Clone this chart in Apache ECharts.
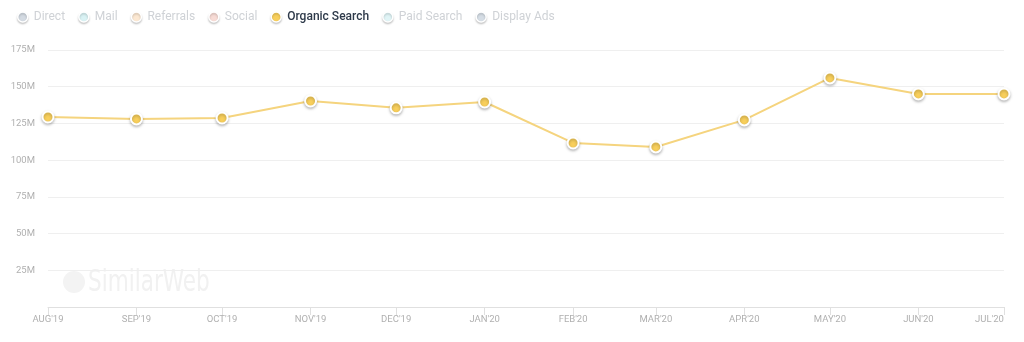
<!DOCTYPE html>
<html>
<head>
<meta charset="utf-8">
<script src="https://cdn.jsdelivr.net/npm/echarts@6/dist/echarts.min.js"></script>
<style>
  html, body { margin: 0; padding: 0; background: #fff; }
  #chart { width: 1024px; height: 342px; }
</style>
</head>
<body>
<div id="chart"></div>
<script>
// Monthly traffic by channel (visits, millions)
const months = ['2019-08-01', '2019-09-01', '2019-10-01', '2019-11-01', '2019-12-01', '2020-01-01',
                '2020-02-01', '2020-03-01', '2020-04-01', '2020-05-01', '2020-06-01', '2020-07-01'];
const organicSearch = [129.4, 128.1, 128.7, 140.3, 135.6, 139.6, 111.7, 109.0, 127.4, 156.0, 145.1, 145.1];
const channels = ['Direct', 'Mail', 'Referrals', 'Social', 'Organic Search', 'Paid Search', 'Display Ads'];
const activeChannel = 'Organic Search';
const yTicks = [0, 25, 50, 75, 100, 125, 150, 175];
const monthNames = ['JAN', 'FEB', 'MAR', 'APR', 'MAY', 'JUN', 'JUL', 'AUG', 'SEP', 'OCT', 'NOV', 'DEC'];

const channelColors = {
  'Direct': '#d3dae2',
  'Mail': '#d9f2f4',
  'Referrals': '#fce8d2',
  'Social': '#f7dbd5',
  'Organic Search': '#f8cf5c',
  'Paid Search': '#e0f4f6',
  'Display Ads': '#d5dde5'
};

const seriesData = {
  'Organic Search': months.map((m, i) => [m, organicSearch[i]])
};

const lastMonth = months[months.length - 1];

const chart = echarts.init(document.getElementById('chart'));

const series = channels.map(name => {
  const active = name === activeChannel;
  return {
    name: name,
    type: 'line',
    data: seriesData[name] || [],
    color: channelColors[name],
    symbol: 'circle',
    symbolSize: 11,
    showSymbol: true,
    lineStyle: { width: 2, color: '#f5d47e' },
    itemStyle: {
      color: channelColors[name],
      borderColor: '#fff',
      borderWidth: 2,
      shadowBlur: 3,
      shadowColor: 'rgba(0,0,0,0.25)',
      shadowOffsetY: 1.5
    },
    emphasis: { disabled: true },
    z: active ? 3 : 2
  };
});

chart.setOption({
  animation: false,
  grid: { left: 48, right: 20, top: 50, bottom: 35, containLabel: false },
  legend: {
    left: 12,
    top: 6,
    icon: 'circle',
    itemWidth: 10,
    itemHeight: 10,
    itemGap: 13,
    selectedMode: false,
    itemStyle: {
      borderColor: '#fff',
      borderWidth: 1.5,
      shadowBlur: 2,
      shadowColor: 'rgba(0,0,0,0.2)',
      shadowOffsetY: 1.5
    },
    data: channels.map(name => ({
      name: name,
      textStyle: name === activeChannel
        ? { color: '#2e3a4a', fontWeight: 500 }
        : { color: '#cfd2d6' }
    })),
    textStyle: { fontFamily: 'Roboto', fontSize: 12, padding: [0, 0, 0, 1] }
  },
  xAxis: {
    type: 'time',
    min: months[0],
    max: lastMonth,
    splitNumber: 12,
    minInterval: 28 * 86400000,
    axisLine: { show: true, lineStyle: { color: '#e0e0e0', width: 1 } },
    axisTick: { show: true, length: 8, lineStyle: { color: '#e0e0e0' } },
    splitLine: { show: false },
    axisLabel: {
      color: '#b0b0b0',
      fontFamily: 'Roboto',
      fontSize: 9.5,
      margin: 8,
      hideOverlap: false,
      formatter: function (value) {
        const d = new Date(value);
        const text = monthNames[d.getMonth()] + "'" + String(d.getFullYear()).slice(2);
        return value >= new Date(lastMonth).getTime() ? '{last|' + text + '}' : text;
      },
      rich: {
        last: { color: '#b0b0b0', fontFamily: 'Roboto', fontSize: 9.5, padding: [0, 29, 0, 0] }
      }
    }
  },
  yAxis: {
    type: 'value',
    min: yTicks[0],
    max: yTicks[yTicks.length - 1],
    interval: 25,
    axisLine: { show: false },
    axisTick: { show: false },
    splitLine: { lineStyle: { color: '#efefef', width: 1 } },
    axisLabel: {
      color: '#b0b0b0',
      fontFamily: 'Roboto',
      fontSize: 9.5,
      margin: 13,
      formatter: function (v) { return v === 0 ? '' : v + 'M'; }
    }
  },
  graphic: [
    {
      type: 'group',
      left: 63,
      top: 268,
      silent: true,
      z: 0,
      children: [
        { type: 'circle', shape: { cx: 11, cy: 14, r: 11 }, style: { fill: '#f3f3f3' } },
        {
          type: 'text',
          x: 25,
          y: 0,
          scaleX: 0.8,
          style: {
            text: 'SimilarWeb',
            fill: '#f1f1f1',
            font: '30px "Liberation Sans Narrow", "DejaVu Sans Condensed", sans-serif'
          }
        }
      ]
    }
  ],
  series: series
});
</script>
</body>
</html>
